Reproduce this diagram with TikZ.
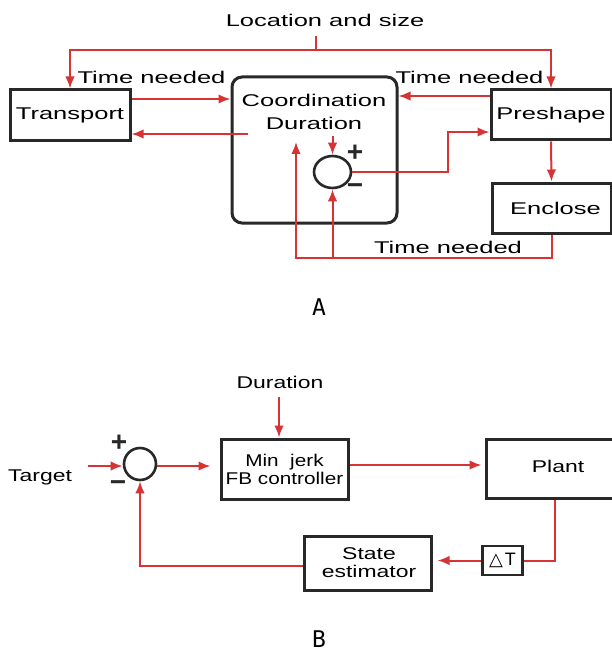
\documentclass[tikz,border=0pt]{standalone}
\usepackage{fontspec}
\setmainfont{Liberation Sans}
\newfontfamily\topfont{Liberation Sans}[FakeStretch=1.5]
\newfontfamily\botfont{Liberation Sans}[FakeStretch=1.35]
\newfontfamily\mjfont{Liberation Sans}[FakeStretch=1.22]
\newfontfamily\labfont{DejaVu Sans Mono}
\newfontfamily\symfont{DejaVu Sans}
\usetikzlibrary{arrows.meta,shapes.geometric}
\definecolor{arrowred}{RGB}{214,52,52}
\definecolor{boxgray}{RGB}{40,40,40}
\begin{document}
\begin{tikzpicture}[x=1pt,y=-1pt,
  wire/.style={draw=arrowred, line width=2pt},
  arr/.style={wire, -{Latex[length=12pt,width=9.5pt]}},
  box/.style={draw=boxgray, line width=3pt, inner sep=0pt, align=center},
  sumnode/.style={draw=boxgray, line width=2.6pt, inner sep=0pt},
  ttxt/.style={font=\topfont\fontsize{17}{23}\selectfont, inner sep=0pt, align=center},
  btxt/.style={font=\botfont\fontsize{17}{18}\selectfont, inner sep=0pt, align=center},
  sgn/.style={font=\bfseries\fontsize{28}{28}\selectfont, text=boxgray, inner sep=0pt},
  lab/.style={font=\labfont\fontsize{23}{23}\selectfont, inner sep=0pt}]
\useasboundingbox[fill=white] (0,0) rectangle (612,655);

% ---------------- Panel A ----------------
\node[ttxt] (loc) at (325,20) {Location and size};
\coordinate (locb) at (316,36);
\coordinate (jt) at (316,50);

\node[box, ttxt, minimum width=120pt, minimum height=51pt] (tr) at (70,115.5) {Transport};
\node[box, rounded corners=10pt, minimum width=165pt, minimum height=146pt] (cb) at (314.5,150) {};
\node[ttxt] (ct) at (314,111.5) {Coordination\\Duration};
\node[box, ttxt, minimum width=120pt, minimum height=50pt] (ps) at (551,115) {Preshape};
\node[box, ttxt, minimum width=119pt, minimum height=50pt] (en) at (551.5,208) {\hspace*{8pt}Enclose};
\node[sumnode, ellipse, minimum width=37pt, minimum height=32pt] (s1) at (332.5,172) {};
\node[sgn] (p1) at (355,153) {+};
\node[sgn] (m1) at (355,189) {\char"2212};

\node[ttxt] (tn1) at (151.5,77) {Time needed};
\node[ttxt] (tn2) at (469.5,77) {Time needed};
\node[ttxt] (tn3) at (448,247) {Time needed};

\draw[wire] (locb) -- (jt);
\draw[arr] (jt) -| (tr.north);
\draw[arr] (jt) -| (ps.north);
\draw[arr] (tr.east |- 0,99) -- (cb.west |- 0,99);
\coordinate (c1) at (248,134);
\draw[arr] (c1) -- (tr.east |- c1);
\draw[arr] (ps.west |- 0,96) -- (cb.east |- 0,96);
\coordinate (s1in) at (332.5,136);
\draw[arr] (s1in) -- (s1.north);
\draw[arr] (s1.east) -- ++(96,0) |- (ps.west |- 0,132);
\draw[arr] (ps.south) -- (en.north);
\coordinate (fbL) at (296,142);
\draw[arr] (en.south) -- (en.south |- 0,258) -| (fbL);
\draw[arr] (s1.south |- 0,258) -- (s1.south);

\node[lab] (A) at (319,307.5) {A};

% ---------------- Panel B ----------------
\node[btxt] (dur) at (280,382) {Duration};
\node[box, font=\mjfont\fontsize{17}{18}\selectfont, minimum width=127pt, minimum height=60pt] (mj) at (284.5,469) {Min \ jerk\\FB controller};
\node[box, btxt, minimum width=128pt, minimum height=59pt] (pl) at (550,468.5) {\hspace*{16pt}\raisebox{5pt}{Plant}};
\node[box, minimum width=40pt, minimum height=29pt, line width=2.8pt, font=\fontsize{18}{18}\selectfont] (dt) at (502.5,560.5) {{\symfont\char"25B3}\hspace{2pt}T};
\node[box, btxt, minimum width=127pt, minimum height=54pt] (se) at (367.5,563) {\hspace*{3pt}State\\\hspace*{3pt}estimator};
\node[sumnode, circle, minimum size=32pt] (s2) at (140,464) {};
\node[sgn] (p2) at (119,443) {+};
\node[sgn] (m2) at (118,486) {\char"2212};
\node[btxt] (tg) at (40,477) {Target};

\coordinate (d1) at (279,397);
\draw[arr] (d1) -- (d1 |- mj.north);
\coordinate (t1) at (88,466);
\draw[arr] (t1) -- (s2.west |- t1);
\draw[arr, shorten >=9pt] (s2.east |- 0,466) -- (mj.west |- 0,466);
\draw[arr, shorten >=3pt] (mj.east |- 0,465) -- (pl.west |- 0,465);
\draw[wire] (pl.south -| 555,0) |- (dt.east);
\draw[arr, shorten >=5pt] (dt.west) -- (se.east |- dt.west);
\draw[arr] (se.west |- 0,566) -| (s2.south);

\node[lab] (B) at (319,639) {B};
\end{tikzpicture}
\end{document}
